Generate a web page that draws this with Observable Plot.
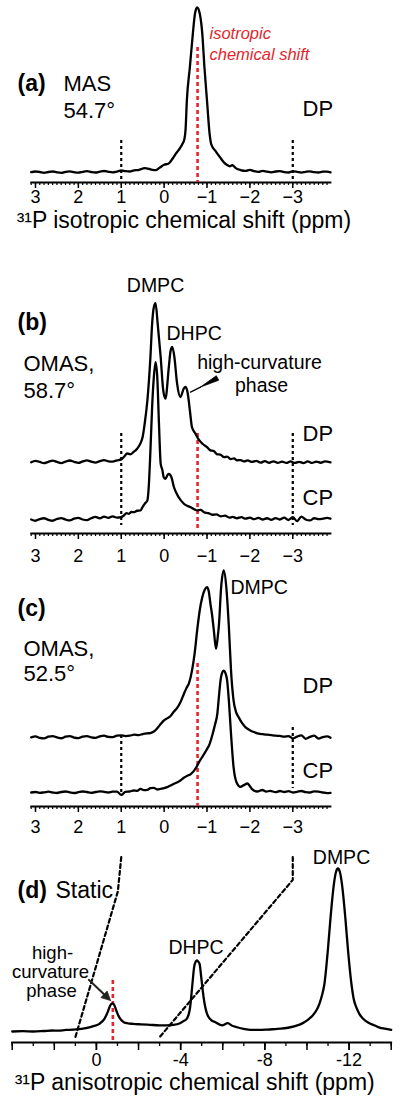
<!DOCTYPE html>
<html><head><meta charset="utf-8">
<script src="https://cdn.jsdelivr.net/npm/d3@7"></script>
<script src="https://cdn.jsdelivr.net/npm/@observablehq/plot@0.6"></script>
<style>
body{margin:0;background:#fff;width:400px;}
#chart svg{display:block;}
</style>
</head><body><div id="chart"></div>
<script>
// ---------- data (ppm, intensity) ----------
const isoShift = -0.78;            // isotropic chemical shift
const guideShifts = [1, -3];       // black dotted guides
const isoMajorTicks = [3, 2, 1, 0, -1, -2, -3];
const anisoLabelTicks = [0, -4, -8, -12];

const spectrumA = [[3.1,0.2],[3.0,0.6],[2.9,0.3],[2.8,-0.2],[2.7,0.3],[2.6,0.6],[2.5,0.1],[2.4,-0.2],[2.3,0.4],[2.2,0.7],[2.1,0.2],[2.0,-0.1],[1.9,0.4],[1.8,0.8],[1.7,0.3],[1.6,0.0],[1.5,0.5],[1.4,0.9],[1.3,0.4],[1.2,0.1],[1.1,0.6],[1.0,1.2],[0.9,0.8],[0.8,0.6],[0.7,1.3],[0.6,1.5],[0.45,2.6],[0.3,1.8],[0.2,1.4],[0.1,3.0],[0.0,4.7],[-0.1,5.3],[-0.2,8.5],[-0.27,11.3],[-0.35,14],[-0.42,17],[-0.47,20],[-0.5,26],[-0.53,43.6],[-0.6,63.8],[-0.67,84.2],[-0.72,96.4],[-0.77,100],[-0.83,96.4],[-0.89,84.2],[-0.94,63.8],[-1.0,43.6],[-1.06,23.6],[-1.1,17],[-1.2,13],[-1.31,9],[-1.4,6],[-1.47,4.5],[-1.53,3.8],[-1.59,4.4],[-1.68,2.5],[-1.78,1.5],[-1.9,1.0],[-2.0,1.6],[-2.1,0.8],[-2.2,0.4],[-2.3,1.0],[-2.4,0.5],[-2.5,0.1],[-2.6,0.6],[-2.7,0.8],[-2.8,0.2],[-2.9,0.0],[-3.0,0.7],[-3.1,0.4],[-3.2,-0.1],[-3.3,0.4],[-3.4,0.7],[-3.5,0.2],[-3.6,0.0],[-3.7,0.5],[-3.8,0.5],[-3.88,0.1]];

const dpB = [[3.1,0],[3.0,0.9],[2.9,0.2],[2.8,-0.6],[2.7,0.3],[2.6,1.0],[2.5,0.2],[2.4,-0.5],[2.3,0.4],[2.2,1.1],[2.1,0.3],[2.0,-0.4],[1.9,0.5],[1.8,1.2],[1.7,0.4],[1.6,-0.2],[1.5,0.7],[1.4,1.3],[1.3,0.6],[1.2,0.4],[1.1,1.2],[1.0,1.8],[0.93,3.6],[0.86,5.5],[0.79,5.0],[0.71,6.5],[0.63,8.5],[0.55,12],[0.5,16],[0.45,25],[0.39,39],[0.32,66],[0.28,87],[0.24,97.5],[0.2,100],[0.15,87],[0.08,66],[0.02,45],[-0.03,40],[-0.11,60],[-0.15,70],[-0.19,72.5],[-0.24,66],[-0.3,50],[-0.38,41],[-0.46,46.5],[-0.5,47.4],[-0.55,43.4],[-0.6,32.7],[-0.65,22],[-0.73,18],[-0.8,14.5],[-0.9,11.5],[-1.0,9.5],[-1.08,7.5],[-1.16,7.0],[-1.24,5.0],[-1.31,4.8],[-1.4,3.2],[-1.47,3.6],[-1.55,2.0],[-1.63,2.4],[-1.7,1.2],[-1.78,1.4],[-1.87,0.5],[-1.95,1.2],[-2.05,0.2],[-2.15,0.9],[-2.25,-0.2],[-2.35,0.7],[-2.45,-0.3],[-2.55,0.6],[-2.65,-0.4],[-2.75,0.4],[-2.85,-0.4],[-2.95,0.5],[-3.05,-0.4],[-3.15,0.3],[-3.25,-0.5],[-3.35,0.5],[-3.45,-0.4],[-3.55,0.4],[-3.65,-0.3],[-3.75,0.5],[-3.88,0]];

const cpB = [[3.1,0],[3.0,-0.8],[2.9,0.3],[2.8,0.8],[2.7,-0.2],[2.6,-0.8],[2.5,0.3],[2.4,0.9],[2.3,0.0],[2.2,-0.6],[2.1,0.5],[2.0,1.0],[1.9,0.0],[1.8,-0.4],[1.7,0.8],[1.6,1.6],[1.5,0.8],[1.4,1.8],[1.3,1.0],[1.2,2.0],[1.1,1.2],[1.0,1.5],[0.94,2.5],[0.88,4.0],[0.82,3.6],[0.76,4.8],[0.71,4.6],[0.63,5.5],[0.55,5.7],[0.5,8],[0.45,10],[0.39,12],[0.36,20],[0.32,43],[0.28,70.6],[0.24,89.5],[0.2,98.9],[0.16,89.5],[0.12,60],[0.08,35],[0.04,31],[0.01,26.6],[-0.03,25.6],[-0.08,28.0],[-0.11,28.7],[-0.17,26.6],[-0.23,20.3],[-0.34,14],[-0.46,9.9],[-0.62,7.7],[-0.77,5.7],[-0.85,6.0],[-0.93,4.6],[-1.03,4.0],[-1.12,3.0],[-1.22,3.2],[-1.32,2.0],[-1.42,2.4],[-1.52,1.2],[-1.6,1.6],[-1.7,0.8],[-1.8,1.5],[-1.9,0.5],[-2.0,1.2],[-2.1,0.2],[-2.2,1.0],[-2.3,0.0],[-2.4,0.8],[-2.5,-0.2],[-2.6,0.9],[-2.7,0.0],[-2.8,1.2],[-2.9,-0.3],[-3.0,1.5],[-3.1,-1.0],[-3.2,1.8],[-3.3,0.0],[-3.4,-0.6],[-3.5,0.8],[-3.6,0.2],[-3.7,0.5],[-3.8,1.0],[-3.88,0.5]];

const dpC = [[3.1,0.0],[3.0,0.6],[2.9,-0.3],[2.8,-0.6],[2.7,0.4],[2.6,0.8],[2.5,0.0],[2.4,-0.5],[2.3,0.4],[2.2,0.7],[2.1,-0.1],[2.0,-0.4],[1.9,0.5],[1.8,0.8],[1.7,0.0],[1.6,-0.3],[1.5,0.6],[1.4,1.0],[1.3,0.3],[1.2,0.2],[1.1,1.0],[1.0,1.2],[0.9,0.8],[0.8,1.0],[0.7,1.6],[0.6,1.4],[0.5,2.0],[0.4,2.4],[0.32,2.6],[0.24,3.5],[0.16,5.5],[0.08,8],[0.01,10],[-0.07,11.4],[-0.15,12.8],[-0.23,15.5],[-0.3,17.5],[-0.38,21],[-0.46,26],[-0.52,29.5],[-0.58,32.5],[-0.65,40],[-0.71,50],[-0.77,64],[-0.83,76],[-0.89,84],[-0.95,88.5],[-1.0,90],[-1.04,87.5],[-1.08,80],[-1.12,73],[-1.16,64],[-1.21,53],[-1.25,60],[-1.28,68],[-1.33,90],[-1.39,100],[-1.45,90],[-1.51,66],[-1.56,40],[-1.62,22],[-1.68,15],[-1.74,12],[-1.82,8.5],[-1.9,6],[-2.0,4.3],[-2.09,3.2],[-2.2,2.3],[-2.3,1.9],[-2.4,1.6],[-2.5,1.3],[-2.6,1.0],[-2.7,0.9],[-2.8,0.4],[-2.9,0.8],[-3.0,-0.6],[-3.1,0.5],[-3.2,1.2],[-3.3,-0.8],[-3.4,0.3],[-3.5,1.0],[-3.6,-0.7],[-3.7,0.2],[-3.8,0.6],[-3.88,-0.2]];

const cpC = [[3.1,0.0],[3.0,0.3],[2.9,-0.2],[2.8,0.1],[2.7,0.5],[2.6,0.0],[2.5,-0.3],[2.4,0.3],[2.3,0.6],[2.2,0.1],[2.1,-0.3],[2.0,0.2],[1.9,0.6],[1.8,0.3],[1.7,-0.2],[1.6,0.3],[1.5,0.7],[1.4,0.4],[1.3,0.0],[1.2,0.5],[1.1,0.5],[1.0,-1.4],[0.9,0.4],[0.8,0.6],[0.71,1.2],[0.63,1.0],[0.55,2.2],[0.47,1.4],[0.39,1.6],[0.32,2.6],[0.24,2.8],[0.16,1.8],[0.08,2.2],[0.0,2.6],[-0.07,3.2],[-0.15,4.2],[-0.23,5.2],[-0.3,6.0],[-0.38,7.2],[-0.46,8.8],[-0.54,10],[-0.62,11],[-0.69,12.8],[-0.75,15],[-0.81,18],[-0.87,20.5],[-0.93,23],[-1.0,26],[-1.06,29],[-1.12,34],[-1.18,40],[-1.24,47],[-1.28,58],[-1.31,66],[-1.35,71.5],[-1.39,73],[-1.43,71.5],[-1.47,67],[-1.51,55],[-1.56,35],[-1.62,15],[-1.69,6],[-1.78,3.4],[-1.86,4.4],[-1.94,5.4],[-2.0,3.8],[-2.05,2.0],[-2.17,0.6],[-2.29,1.5],[-2.38,0.5],[-2.47,1.0],[-2.6,0.2],[-2.7,0.9],[-2.8,0.3],[-2.9,0.8],[-3.0,0.0],[-3.1,0.4],[-3.2,0.9],[-3.3,0.2],[-3.4,0.0],[-3.5,0.7],[-3.6,0.5],[-3.7,0.0],[-3.8,-0.4],[-3.88,-0.2]];

const staticD = [[4.0,0.0],[3.5,0.2],[3.0,0.0],[2.5,0.3],[2.1,0.6],[1.8,0.5],[1.45,1.0],[1.1,1.1],[0.81,1.4],[0.5,2.0],[0.18,3.1],[-0.14,4.7],[-0.38,7.8],[-0.54,12],[-0.64,15.5],[-0.72,17],[-0.78,17.2],[-0.86,16],[-0.94,13],[-1.08,8.8],[-1.3,5.7],[-1.5,5.0],[-1.74,4.7],[-2.1,4.4],[-2.54,4.1],[-3.0,3.8],[-3.33,3.7],[-3.65,4.0],[-3.97,5.1],[-4.15,6.5],[-4.29,7.8],[-4.45,14.9],[-4.56,29.3],[-4.64,39.5],[-4.72,43],[-4.77,43.6],[-4.83,43],[-4.9,41.5],[-4.98,33],[-5.09,21],[-5.25,10.9],[-5.45,7],[-5.65,5.7],[-5.97,3.7],[-6.24,5.1],[-6.45,3.5],[-6.68,2.6],[-7.0,1.6],[-7.32,1.0],[-7.7,1.0],[-8.12,1.2],[-8.5,1.5],[-8.76,1.7],[-9.1,2.3],[-9.39,3.1],[-9.65,4.2],[-9.87,5.7],[-10.1,7.8],[-10.27,9.8],[-10.45,13],[-10.59,17],[-10.72,22.5],[-10.83,29.3],[-10.99,49.7],[-11.12,70],[-11.28,90.6],[-11.38,98],[-11.47,100],[-11.56,98],[-11.66,90.6],[-11.82,70],[-11.95,49.7],[-12.11,29.3],[-12.22,20],[-12.34,14.9],[-12.5,10.5],[-12.67,7.8],[-12.9,5.5],[-13.22,3.7],[-13.45,2.4],[-13.7,1.7],[-14.0,1.0]];

// ---------- styling / layout ----------
const FONT = "'Liberation Sans', Arial, Helvetica, sans-serif";
const RED = "#e3262d";
const W = 400;
const isoDomain = [3.1, -3.88];
const anisoDomain = [4, -14];
const isoML = 30.7, isoMR = 70;
const anML = 11.7, anMR = 9.3;
const fmtIso = d3.format("d");
const fmtAniso = d => String(d);
const isoMinor = d3.range(31, -39, -1).map(i => i / 10);
const anisoMinor = d3.range(4, -15, -1);
const anisoMid = d3.range(4, -15, -2);

const style = {fontFamily: FONT, fontSize: "18px", color: "black", background: "white", overflow: "visible"};
const X = d => d[0], Y = d => d[1];

function txt(s, px, py, ml, o = {}) {
  return Plot.text([s], {frameAnchor: "top-left", dx: px - ml, dy: py, textAnchor: "start", lineAnchor: "middle", fontSize: 22, fill: "black", ...o});
}
function isoAxis(pad) {
  return [
    Plot.frame({anchor: "bottom", strokeWidth: 1.8}),
    Plot.axisX({ticks: isoMinor, tickSize: 3, fill: null, strokeWidth: 1.2, label: null}),
    Plot.axisX({ticks: isoMajorTicks, tickSize: 6, tickPadding: pad, tickFormat: fmtIso, strokeWidth: 1.5, fontSize: 18, label: null})
  ];
}
const lineOpts = {x: X, curve: "monotone-x", strokeWidth: 2.3, stroke: "black"};
const redDash = {stroke: RED, strokeWidth: 2.6, strokeDasharray: "4,3"};
const blackDash = {stroke: "black", strokeWidth: 2.2, strokeDasharray: "3,3"};

const chart = document.getElementById("chart");

// ---------- panel (a) ----------
{
  const H = 242, MB = 60, yDom = [0, 100], yRan = [172, 7];
  const yAxisVal = Plot.scale({y: {domain: yDom, range: yRan}}).invert(H - MB);
  chart.append(Plot.plot({
    width: W, height: H, marginLeft: isoML, marginRight: isoMR, marginTop: 0, marginBottom: MB,
    x: {domain: isoDomain}, y: {domain: yDom, range: yRan, axis: null}, style,
    marks: [
      ...isoAxis(2),
      Plot.ruleX(guideShifts, {y1: 19.4, y2: yAxisVal, ...blackDash}),
      Plot.ruleX([isoShift], {y1: 75.8, y2: yAxisVal, ...redDash}),
      Plot.line(spectrumA, {...lineOpts, y: Y}),
      txt("(a)", 17, 83, isoML, {fontWeight: "bold", fontSize: 23}),
      txt("MAS", 63, 83, isoML),
      txt("54.7°", 63, 110, isoML),
      txt("DP", 302, 108, isoML),
      txt("isotropic", 209, 33, isoML, {fill: RED, fontStyle: "italic", fontSize: 16.5}),
      txt("chemical shift", 209, 54, isoML, {fill: RED, fontStyle: "italic", fontSize: 16.5}),
      Plot.text(["³¹P isotropic chemical shift (ppm)"], {frameAnchor: "bottom", dy: 45, dx: 3, fontSize: 23, fill: "black"})
    ]
  }));
}

// ---------- panel (b) ----------
{
  const H = 323, MB = 32, yDom = [0, 100], yRan = [277, 118], dpOff = 36;
  const yAxisVal = Plot.scale({y: {domain: yDom, range: yRan}}).invert(H - MB);
  const wedge = [[-0.848, 83.3], [-1.273, 87.6], [-1.217, 90.4], [-0.848, 83.3]];
  const wedgeStem = [[-0.615, 80.1], [-0.848, 83.3]];
  chart.append(Plot.plot({
    width: W, height: H, marginLeft: isoML, marginRight: isoMR, marginTop: 0, marginBottom: MB,
    x: {domain: isoDomain}, y: {domain: yDom, range: yRan, axis: null}, style,
    marks: [
      ...isoAxis(10),
      Plot.ruleX(guideShifts, {y1: 54.1, y2: -3.8, ...blackDash}),
      Plot.ruleX([isoShift], {y1: 54.1, y2: yAxisVal + 1.2, ...redDash}),
      Plot.line(dpB, {...lineOpts, y: d => d[1] + dpOff}),
      Plot.line(cpB, {...lineOpts, y: Y}),
      Plot.line(wedge, {x: X, y: Y, fill: "black", stroke: "black", strokeWidth: 0.8}),
      Plot.line(wedgeStem, {x: X, y: Y, stroke: "black", strokeWidth: 1.3}),
      txt("DMPC", 155, 43, isoML, {textAnchor: "middle", fontSize: 19.5}),
      txt("DHPC", 166, 91, isoML, {fontSize: 19.5}),
      txt("high-curvature", 259, 120, isoML, {textAnchor: "middle", fontSize: 19.5}),
      txt("phase", 261, 143, isoML, {textAnchor: "middle", fontSize: 19.5}),
      txt("(b)", 17, 80, isoML, {fontWeight: "bold", fontSize: 23}),
      txt("OMAS,", 23, 121, isoML),
      txt("58.7°", 23, 148, isoML),
      txt("DP", 302, 191, isoML),
      txt("CP", 302, 255, isoML)
    ]
  }));
}

// ---------- panel (c) ----------
{
  const H = 267, MB = 26, yDom = [0, 100], yRan = [227, 60], dpOff = 33;
  const yAxisVal = Plot.scale({y: {domain: yDom, range: yRan}}).invert(H - MB);
  chart.append(Plot.plot({
    width: W, height: H, marginLeft: isoML, marginRight: isoMR, marginTop: 0, marginBottom: MB,
    x: {domain: isoDomain}, y: {domain: yDom, range: yRan, axis: null}, style,
    marks: [
      ...isoAxis(8),
      Plot.ruleX([guideShifts[0]], {y1: 34.1, y2: -1.8, ...blackDash}),
      Plot.ruleX([guideShifts[1]], {y1: 38.9, y2: 2.4, ...blackDash}),
      Plot.ruleX([isoShift], {y1: 77.2, y2: yAxisVal, ...redDash}),
      Plot.line(dpC, {...lineOpts, y: d => d[1] + dpOff}),
      Plot.line(cpC, {...lineOpts, y: Y}),
      txt("(c)", 17, 43, isoML, {fontWeight: "bold", fontSize: 23}),
      txt("OMAS,", 23, 83, isoML),
      txt("52.5°", 23, 108, isoML),
      txt("DMPC", 230, 22, isoML, {fontSize: 19.5}),
      txt("DP", 302, 120, isoML),
      txt("CP", 302, 205, isoML)
    ]
  }));
}

// ---------- panel (d) ----------
{
  const H = 274, MB = 64, yDom = [0, 100], yRan = [199, 36];
  const yAxisVal = Plot.scale({y: {domain: yDom, range: yRan}}).invert(H - MB);
  const xIso = Plot.scale({x: {domain: isoDomain, range: [isoML, W - isoMR]}});
  const xAniso = Plot.scale({x: {domain: anisoDomain, range: [anML, W - anMR]}});
  const connectorKinks = [86, 93];
  const connectors = guideShifts.flatMap((s, i) => {
    const top = xAniso.invert(xIso.apply(s));
    return [
      {k: i, x: top, y: 107},
      {k: i, x: top + (i === 0 ? 0.16 : 0), y: connectorKinks[i]},
      {k: i, x: s, y: -3.5}
    ];
  });
  const arrowStem = [[0.36, 31.7], [-0.36, 22.8]];
  const arrowHead = [[-0.67, 19.0], [-0.214, 20.8], [-0.508, 24.8], [-0.67, 19.0]];
  chart.append(Plot.plot({
    width: W, height: H, marginLeft: anML, marginRight: anMR, marginTop: 0, marginBottom: MB,
    x: {domain: anisoDomain}, y: {domain: yDom, range: yRan, axis: null}, style,
    marks: [
      Plot.frame({anchor: "bottom", strokeWidth: 1.8}),
      Plot.axisX({ticks: anisoMinor, tickSize: 4, fill: null, strokeWidth: 1.3, label: null}),
      Plot.axisX({ticks: anisoMid, tickSize: 8, fill: null, strokeWidth: 1.5, label: null}),
      Plot.axisX({ticks: anisoLabelTicks, tickSize: 8, tickPadding: 3, tickFormat: fmtAniso, strokeWidth: 1.5, fontSize: 18, label: null}),
      Plot.ruleX([isoShift], {y1: 31.3, y2: yAxisVal, ...redDash}),
      Plot.line(staticD, {...lineOpts, y: Y}),
      Plot.line(connectors, {x: "x", y: "y", z: "k", ...blackDash, strokeDasharray: "4,3"}),
      Plot.line(arrowStem, {x: X, y: Y, stroke: "#222", strokeWidth: 2}),
      Plot.line(arrowHead, {x: X, y: Y, fill: "#222", stroke: "#222", strokeWidth: 0.8}),
      txt("(d)", 17, 58, anML, {fontWeight: "bold", fontSize: 23}),
      txt("Static", 55, 58, anML, {fontSize: 23}),
      txt("DMPC", 341, 25, anML, {textAnchor: "middle", fontSize: 19.5}),
      txt("DHPC", 195.5, 115, anML, {textAnchor: "middle", fontSize: 19.5}),
      txt("high-", 52, 121, anML, {textAnchor: "middle", fontSize: 18.5}),
      txt("curvature", 50, 140, anML, {textAnchor: "middle", fontSize: 18.5}),
      txt("phase", 51, 159, anML, {textAnchor: "middle", fontSize: 18.5}),
      Plot.text(["³¹P anisotropic chemical shift (ppm)"], {frameAnchor: "bottom", dy: 47, dx: -7, fontSize: 23, fill: "black"})
    ]
  }));
}
</script></body></html>
